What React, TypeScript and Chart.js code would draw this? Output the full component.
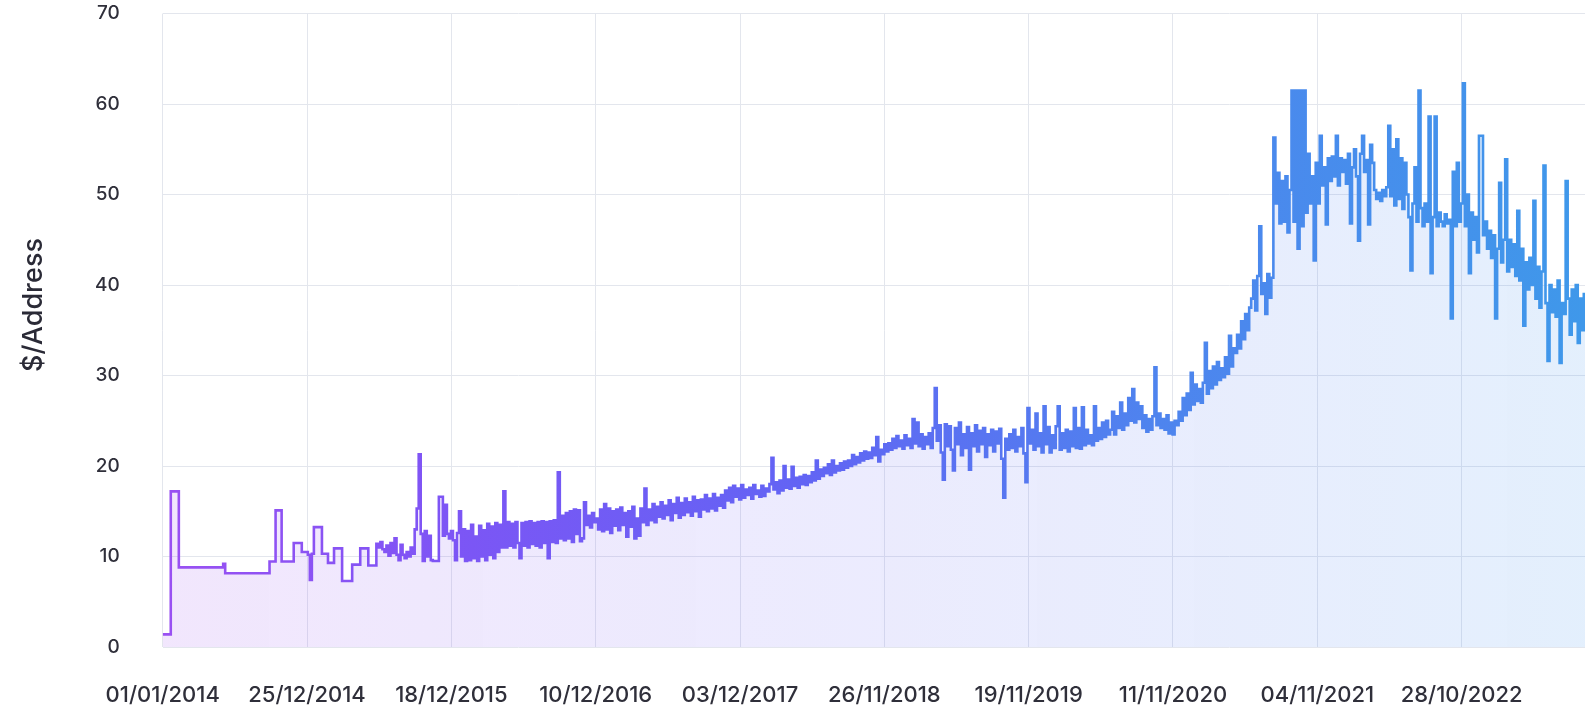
import React, { useEffect, useRef } from 'react';
import { Chart, registerables } from 'chart.js';

Chart.register(...registerables);

// ---- axis data ----
const xTickDays = [0, 358, 716, 1074, 1432, 1790, 2148, 2506, 2864, 3222];
const xTickLabels = [
  '01/01/2014', '25/12/2014', '18/12/2015', '10/12/2016', '03/12/2017',
  '26/11/2018', '19/11/2019', '11/11/2020', '04/11/2021', '28/10/2022',
];
const yAxisTitle = '$/Address';
const xMaxDay = 3528;
const stepDays = 5; // one value every 5 days, starting 01/01/2014

// ---- series values ($ per address), 5-day steps ----
const seg2014a = [
  1.4, 1.4, 1.4, 1.4, 17.2, 17.2, 17.2, 17.2, 8.8, 8.8,
  8.8, 8.8, 8.8, 8.8, 8.8, 8.8, 8.8, 8.8, 8.8, 8.8,
  8.8, 8.8, 8.8, 8.8, 8.8, 8.8, 8.8, 8.8, 8.8, 8.8,
  9.2, 8.15, 8.15, 8.15, 8.15, 8.15, 8.15, 8.15, 8.15, 8.15,
  8.15, 8.15, 8.15, 8.15, 8.15, 8.15, 8.15, 8.15, 8.15, 8.15,
  8.15, 8.15, 8.15, 9.45, 9.45, 9.45, 15.1, 15.1, 15.1, 9.45,
  9.45, 9.45, 9.45, 9.45, 9.45, 11.5, 11.5, 11.5, 11.5, 10.5,
  10.5, 10.5, 10.2, 7.4, 10.3, 13.25, 13.25, 13.25, 13.25, 10.3,
  10.3, 10.3, 9.3, 9.3, 9.3, 10.9, 10.9, 10.9, 10.9, 7.3,
  7.3, 7.3, 7.3, 7.3, 9.1, 9.1, 9.1, 9.1, 10.9, 10.9,
];
const seg2015 = [
  10.9, 10.9, 9.0, 9.0, 9.0, 9.0, 11.4, 11.0, 11.6, 10.8,
  10.5, 11.2, 10.1, 11.5, 10.4, 12.0, 10.2, 9.6, 11.3, 10.2,
  9.8, 10.5, 10.0, 11.0, 10.3, 13.0, 15.3, 21.3, 12.5, 9.5,
  12.8, 10.0, 12.3, 9.6, 9.5, 9.5, 9.5, 16.6, 16.6, 12.3,
  15.7, 12.5, 12.0, 12.8, 11.8, 9.6, 12.6, 15.0, 10.0, 13.0,
  9.5, 12.8, 9.6, 13.5, 9.8, 12.2, 9.5, 13.4, 10.0, 12.9,
  9.6, 13.6, 10.2, 13.3, 9.8, 13.7, 10.5, 13.5, 11.0, 17.2,
  11.0, 13.8, 11.2, 13.6, 11.0, 13.8, 11.5, 9.8, 13.7, 11.2,
  13.8, 11.0, 13.9, 11.4, 13.7, 11.2, 13.8, 11.0, 13.9, 11.5,
  13.8, 9.8, 13.9, 11.6, 14.0, 11.5, 19.3, 12.0, 14.5, 11.8,
];
const seg2016 = [
  14.8, 12.0, 15.0, 11.6, 15.2, 12.5, 15.1, 11.7, 12.0, 16.0,
  13.5, 14.5, 13.2, 14.8, 13.8, 14.2, 13.0, 15.2, 12.8, 15.8,
  13.0, 15.3, 12.6, 15.0, 13.4, 15.2, 12.9, 15.4, 13.5, 14.8,
  12.2, 15.0, 13.3, 15.5, 12.0, 14.2, 12.3, 15.3, 13.8, 17.5,
  13.5, 15.2, 14.0, 15.8, 13.8, 15.5, 14.4, 16.0, 14.2, 15.6,
  14.6, 16.2, 14.0, 15.8, 14.8, 16.5, 14.3, 15.9, 14.6, 16.4,
  14.9, 16.0, 14.5, 16.6, 15.0, 16.2, 14.4, 16.3, 15.2, 16.8,
  15.0, 16.4, 15.3, 16.9, 15.1, 16.5, 15.6, 16.8, 15.4, 17.3,
  16.2, 17.6, 16.0, 17.8, 16.6, 17.5, 16.3, 17.9, 16.5, 17.4,
  16.8, 17.6, 16.4, 17.9, 16.9, 17.3, 16.6, 17.8, 16.7, 17.5,
];
const seg2018 = [
  17.2, 18.0, 20.9, 17.4, 18.2, 17.0, 18.4, 17.3, 20.0, 17.6,
  18.5, 17.5, 19.9, 17.8, 18.7, 17.6, 18.8, 18.0, 19.0, 17.9,
  18.9, 18.2, 19.3, 18.4, 20.6, 18.6, 19.6, 18.9, 19.8, 19.2,
  20.2, 19.0, 20.6, 19.3, 20.0, 19.5, 20.3, 19.6, 20.5, 19.8,
  20.6, 20.0, 21.2, 20.2, 21.0, 20.4, 21.4, 20.6, 21.6, 20.8,
  21.5, 20.9, 22.0, 21.2, 23.2, 20.5, 21.8, 21.3, 22.4, 21.6,
  22.5, 21.8, 23.0, 22.0, 23.3, 22.2, 22.8, 21.9, 23.4, 22.3,
  23.0, 22.0, 25.2, 22.5, 24.8, 22.2, 23.5, 21.9, 23.2, 22.4,
  23.6, 22.0, 24.2, 28.6, 22.8, 24.5, 21.5, 18.5, 24.6, 22.2,
  24.4, 21.8, 19.5, 24.2, 22.4, 24.8, 21.2, 23.5, 22.0, 24.3,
];
const seg2019 = [
  19.6, 23.6, 22.2, 24.5, 21.6, 23.9, 22.4, 24.2, 21.0, 23.5,
  22.3, 24.0, 21.6, 23.8, 22.5, 24.1, 20.8, 16.5, 23.0, 21.8,
  23.5, 22.0, 24.0, 21.6, 23.2, 22.2, 24.2, 21.4, 18.2, 26.4,
  22.5, 24.0, 21.8, 25.8, 22.2, 23.6, 21.5, 26.6, 22.4, 24.3,
  21.5, 23.4, 22.0, 24.4, 26.6, 21.8, 23.6, 22.0, 24.0, 21.6,
  23.8, 22.2, 26.4, 22.0, 24.2, 21.9, 26.5, 22.3, 24.0, 22.5,
  23.4, 22.3, 26.6, 22.8, 24.2, 23.0, 24.8, 23.2, 25.0, 23.5,
  24.0, 26.0, 23.5, 25.5, 24.2, 27.0, 24.0, 25.8, 24.5, 27.5,
  25.0, 28.5, 24.8, 27.0, 25.2, 26.6, 24.2, 25.6, 23.8, 25.2,
  24.0, 25.5, 30.9, 24.5, 25.8, 24.2, 25.2, 24.0, 25.6, 23.6,
];
const seg2021 = [
  24.8, 23.5, 25.0, 24.5, 26.0, 25.0, 27.5, 25.6, 28.0, 26.2,
  30.3, 26.8, 29.0, 27.2, 28.5, 27.0, 29.2, 33.6, 28.0, 30.5,
  28.6, 31.0, 29.0, 31.5, 29.5, 30.8, 29.8, 32.0, 30.2, 34.4,
  31.0, 33.0, 32.5, 34.5, 33.0, 36.0, 34.0, 36.8, 35.0, 37.5,
  38.5, 40.5, 37.2, 41.0, 46.5, 39.0, 40.2, 36.8, 41.2, 38.6,
  40.8, 56.3, 49.0, 52.4, 46.8, 51.5, 47.0, 52.0, 45.8, 50.5,
  61.5, 47.0, 61.5, 44.0, 61.5, 46.5, 61.5, 48.0, 54.5, 49.0,
  52.0, 42.7, 53.5, 49.0, 56.5, 51.0, 53.0, 46.7, 54.0, 51.5,
  54.2, 52.0, 56.5, 51.0, 54.0, 52.5, 53.8, 51.2, 54.5, 46.8,
  53.0, 55.0, 52.0, 44.9, 54.5, 56.5, 52.5, 53.8, 46.7, 55.5,
];
const seg2022 = [
  53.5, 50.5, 49.5, 50.2, 49.3, 50.5, 49.8, 50.8, 57.6, 49.8,
  55.0, 48.8, 56.1, 49.5, 54.0, 48.4, 53.5, 50.0, 47.5, 41.6,
  49.0, 53.0, 47.0, 61.5, 48.5, 46.5, 49.0, 47.0, 58.6, 41.3,
  47.5, 58.6, 46.5, 48.0, 47.0, 46.5, 47.8, 46.8, 47.2, 36.3,
  52.5, 46.5, 53.5, 47.0, 49.0, 62.3, 46.5, 50.0, 41.3, 48.0,
  45.0, 47.5, 43.6, 56.5, 56.5, 45.5, 47.0, 44.0, 46.0, 43.0,
  45.5, 36.3, 44.0, 51.3, 42.5, 45.0, 53.9, 41.5, 45.0, 42.0,
  44.5, 41.0, 48.2, 40.5, 44.0, 35.5, 42.5, 39.5, 43.0, 40.0,
  49.3, 38.5, 42.0, 37.5, 41.5, 53.2, 38.0, 31.6, 40.0, 37.0,
  39.5, 36.5, 40.5, 31.4, 38.0, 36.8, 51.5, 38.5, 34.5, 39.5,
  36.0, 40.0, 33.6, 38.5, 35.0, 39.0, 37.0, 36.5,
];

const addressValue = [
  ...seg2014a, ...seg2015, ...seg2016, ...seg2018, ...seg2019, ...seg2021, ...seg2022,
];

const FONT = 'Inter';

function hGradient(chart: any, stops: [number, string][]) {
  const area = chart.chartArea;
  if (!area) return stops[0][1];
  const g = chart.ctx.createLinearGradient(area.left, 0, area.right, 0);
  stops.forEach(([o, c]) => g.addColorStop(o, c));
  return g;
}

const yTitlePlugin = {
  id: 'yTitleCustom',
  afterDraw(chart: any) {
    const { ctx } = chart;
    ctx.save();
    ctx.translate(34, 305);
    ctx.rotate(-Math.PI / 2);
    ctx.font = `500 27px ${FONT}`;
    ctx.fillStyle = '#2a2a36';
    ctx.textAlign = 'center';
    ctx.textBaseline = 'middle';
    ctx.fillText(yAxisTitle, 0, 0);
    ctx.restore();
  },
};

export default function App() {
  const ref = useRef<HTMLCanvasElement | null>(null);

  useEffect(() => {
    if (!ref.current) return;
    const points = addressValue.map((v, i) => ({ x: i * stepDays, y: v }));
    const chart = new Chart(ref.current, {
      type: 'line',
      data: {
        datasets: [
          {
            data: points,
            stepped: true,
            borderWidth: 2.6,
            pointRadius: 0,
            pointHoverRadius: 0,
            tension: 0,
            fill: 'origin',
            borderColor: (c: any) =>
              hGradient(c.chart, [
                [0, '#9a50f2'],
                [0.2, '#7d55f5'],
                [0.45, '#6264f4'],
                [0.7, '#4e84ee'],
                [1, '#3f98ea'],
              ]),
            backgroundColor: (c: any) =>
              hGradient(c.chart, [
                [0, 'rgba(160,80,240,0.14)'],
                [0.45, 'rgba(110,100,245,0.13)'],
                [1, 'rgba(70,150,240,0.15)'],
              ]),
          },
        ],
      },
      options: {
        animation: false,
        responsive: false,
        layout: { padding: { left: 0, right: 0, top: 13.5, bottom: 0 } },
        plugins: { legend: { display: false }, tooltip: { enabled: false } },
        scales: {
          x: {
            type: 'linear',
            min: 0,
            max: xMaxDay,
            afterBuildTicks: (scale: any) => {
              scale.ticks = xTickDays.map((v) => ({ value: v }));
            },
            afterFit: (scale: any) => {
              scale.height = 61;
            },
            ticks: {
              autoSkip: false,
              maxRotation: 0,
              padding: 35,
              color: '#2f2f3a',
              font: { family: FONT, size: 22, weight: '500' },
              callback: (_v: any, i: number) => xTickLabels[i],
            },
            grid: { color: '#e3e6ed', drawTicks: false, lineWidth: 1 },
            border: { display: false },
          },
          y: {
            min: 0,
            max: 70,
            afterFit: (scale: any) => {
              scale.width = 162.7;
              scale.paddingTop = 10;
              scale.paddingBottom = 10;
            },
            ticks: {
              stepSize: 10,
              padding: 43,
              color: '#2f2f3a',
              font: { family: FONT, size: 19, weight: '500' },
            },
            grid: { color: '#e3e6ed', drawTicks: false, lineWidth: 1 },
            border: { display: false },
          },
        },
      },
      plugins: [yTitlePlugin],
    });
    return () => chart.destroy();
  }, []);

  return (
    <div
      style={{
        position: 'fixed',
        left: 0,
        top: 0,
        width: 1585,
        height: 708,
        overflow: 'hidden',
        background: '#ffffff',
      }}
    >
      <canvas ref={ref} width={1585} height={708} style={{ display: 'block' }} />
    </div>
  );
}
